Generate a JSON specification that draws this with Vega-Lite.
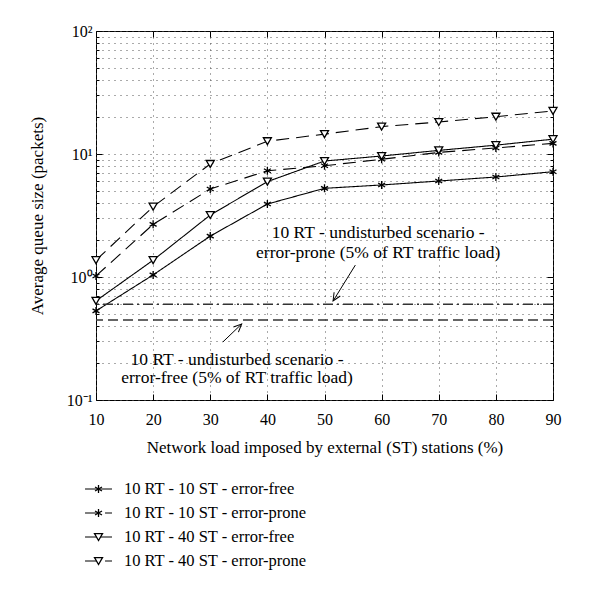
{
  "$schema": "https://vega.github.io/schema/vega-lite/v6.json",
  "padding": {"left": 27, "top": 22, "right": 37, "bottom": 0},
  "spacing": 21,
  "config": {
    "font": "Liberation Serif",
    "view": {"stroke": "black", "strokeWidth": 1},
    "axis": {"labelFont": "Liberation Serif", "titleFont": "Liberation Serif", "labelFontSize": 16, "titleFontSize": 17, "titleFontWeight": "normal", "labelColor": "black", "titleColor": "black", "tickColor": "black", "labelFlush": false},
    "text": {"font": "Liberation Serif"}
  },
  "datasets": {
    "series": [
      {"series": "10 RT - 10 ST - error-free", "x": 10, "y": 0.53},
      {"series": "10 RT - 10 ST - error-free", "x": 20, "y": 1.04},
      {"series": "10 RT - 10 ST - error-free", "x": 30, "y": 2.15},
      {"series": "10 RT - 10 ST - error-free", "x": 40, "y": 3.92},
      {"series": "10 RT - 10 ST - error-free", "x": 50, "y": 5.26},
      {"series": "10 RT - 10 ST - error-free", "x": 60, "y": 5.6},
      {"series": "10 RT - 10 ST - error-free", "x": 70, "y": 6.03},
      {"series": "10 RT - 10 ST - error-free", "x": 80, "y": 6.5},
      {"series": "10 RT - 10 ST - error-free", "x": 90, "y": 7.18},
      {"series": "10 RT - 10 ST - error-prone", "x": 10, "y": 1.02},
      {"series": "10 RT - 10 ST - error-prone", "x": 20, "y": 2.68},
      {"series": "10 RT - 10 ST - error-prone", "x": 30, "y": 5.19},
      {"series": "10 RT - 10 ST - error-prone", "x": 40, "y": 7.3},
      {"series": "10 RT - 10 ST - error-prone", "x": 50, "y": 8.03},
      {"series": "10 RT - 10 ST - error-prone", "x": 60, "y": 9.06},
      {"series": "10 RT - 10 ST - error-prone", "x": 70, "y": 10.3},
      {"series": "10 RT - 10 ST - error-prone", "x": 80, "y": 11.2},
      {"series": "10 RT - 10 ST - error-prone", "x": 90, "y": 12.2},
      {"series": "10 RT - 40 ST - error-free", "x": 10, "y": 0.64},
      {"series": "10 RT - 40 ST - error-free", "x": 20, "y": 1.37},
      {"series": "10 RT - 40 ST - error-free", "x": 30, "y": 3.19},
      {"series": "10 RT - 40 ST - error-free", "x": 40, "y": 5.96},
      {"series": "10 RT - 40 ST - error-free", "x": 50, "y": 8.77},
      {"series": "10 RT - 40 ST - error-free", "x": 60, "y": 9.63},
      {"series": "10 RT - 40 ST - error-free", "x": 70, "y": 10.7},
      {"series": "10 RT - 40 ST - error-free", "x": 80, "y": 11.8},
      {"series": "10 RT - 40 ST - error-free", "x": 90, "y": 13.2},
      {"series": "10 RT - 40 ST - error-prone", "x": 10, "y": 1.37},
      {"series": "10 RT - 40 ST - error-prone", "x": 20, "y": 3.73},
      {"series": "10 RT - 40 ST - error-prone", "x": 30, "y": 8.3},
      {"series": "10 RT - 40 ST - error-prone", "x": 40, "y": 12.7},
      {"series": "10 RT - 40 ST - error-prone", "x": 50, "y": 14.5},
      {"series": "10 RT - 40 ST - error-prone", "x": 60, "y": 16.7},
      {"series": "10 RT - 40 ST - error-prone", "x": 70, "y": 18.2},
      {"series": "10 RT - 40 ST - error-prone", "x": 80, "y": 20.1},
      {"series": "10 RT - 40 ST - error-prone", "x": 90, "y": 22.4}
    ],
    "keys": [
      {"series": "10 RT - 10 ST - error-free"},
      {"series": "10 RT - 10 ST - error-prone"},
      {"series": "10 RT - 40 ST - error-free"},
      {"series": "10 RT - 40 ST - error-prone"}
    ],
    "refs": [
      {"kind": "error-prone", "y": 0.6},
      {"kind": "error-free", "y": 0.447}
    ],
    "notes": [
      {"x": 59.4, "y": 2.279, "text": "10 RT - undisturbed scenario -"},
      {"x": 59.4, "y": 1.567, "text": "error-prone (5% of RT traffic load)"},
      {"x": 34.7, "y": 0.2114, "text": "10 RT - undisturbed scenario -"},
      {"x": 34.7, "y": 0.151, "text": "error-free (5% of RT traffic load)"}
    ],
    "arrows": [
      {"id": "prone", "x": 55.4, "y": 1.25, "x2": 51.5, "y2": 0.638},
      {"id": "free", "x": 32.2, "y": 0.296, "x2": 35.5, "y2": 0.415}
    ]
  },
  "vconcat": [
    {
      "width": 457,
      "height": 369,
      "layer": [
        {
          "data": {"name": "series"},
          "mark": {"type": "line", "color": "black", "strokeWidth": 1.1},
          "encoding": {
            "x": {"field": "x", "type": "quantitative",
              "scale": {"domain": [10, 90], "nice": false, "zero": false},
              "axis": {"values": [10, 20, 30, 40, 50, 60, 70, 80, 90], "title": "Network load imposed by external (ST) stations (%)", "grid": true, "gridDash": [1, 5], "gridColor": "#555", "gridOpacity": 1, "tickSize": -6, "labelPadding": 17, "titlePadding": 12, "domain": false}},
            "y": {"field": "y", "type": "quantitative",
              "scale": {"type": "log", "domain": [0.1, 100], "nice": false},
              "axis": {"values": [0.1, 0.2, 0.3, 0.4, 0.5, 0.6, 0.7, 0.8, 0.9, 1, 2, 3, 4, 5, 6, 7, 8, 9, 10, 20, 30, 40, 50, 60, 70, 80, 90, 100],
                "labelExpr": "datum.value == 100 ? '10²' : datum.value == 10 ? '10¹' : datum.value == 1 ? '10⁰' : datum.value == 0.1 ? '10⁻¹' : ''",
                "labelOverlap": false,
                "title": "Average queue size (packets)", "grid": true, "gridDash": [1, 5], "gridColor": "#555", "gridOpacity": 1,
                "tickSize": {"condition": {"test": "datum.value == 0.1 || datum.value == 1 || datum.value == 10 || datum.value == 100", "value": -6}, "value": -3},
                "labelPadding": 10, "titlePadding": 20, "domain": false}},
            "strokeDash": {"field": "series", "type": "nominal",
              "scale": {"domain": ["10 RT - 10 ST - error-free", "10 RT - 10 ST - error-prone", "10 RT - 40 ST - error-free", "10 RT - 40 ST - error-prone"], "range": [[1, 0], [13, 7], [1, 0], [13, 7]]},
              "legend": null}
          }
        },
        {
          "data": {"name": "series"},
          "mark": {"type": "point", "filled": true, "fill": "white", "stroke": "black", "strokeWidth": 1.3, "opacity": 1},
          "encoding": {
            "x": {"field": "x", "type": "quantitative", "axis": null},
            "y": {"field": "y", "type": "quantitative", "axis": null},
            "shape": {"field": "series", "type": "nominal",
              "scale": {"domain": ["10 RT - 10 ST - error-free", "10 RT - 10 ST - error-prone", "10 RT - 40 ST - error-free", "10 RT - 40 ST - error-prone"],
                "range": ["M0,-1L0,1M-0.87,-0.5L0.87,0.5M-0.87,0.5L0.87,-0.5", "M0,-1L0,1M-0.87,-0.5L0.87,0.5M-0.87,0.5L0.87,-0.5", "triangle-down", "triangle-down"]},
              "legend": null},
            "size": {"field": "series", "type": "nominal",
              "scale": {"domain": ["10 RT - 10 ST - error-free", "10 RT - 10 ST - error-prone", "10 RT - 40 ST - error-free", "10 RT - 40 ST - error-prone"], "range": [64, 64, 150, 150]},
              "legend": null}
          }
        },
        {
          "data": {"name": "refs"},
          "transform": [{"filter": "datum.kind == 'error-prone'"}],
          "mark": {"type": "rule", "color": "#333", "strokeWidth": 1.4, "strokeDash": [10, 4, 2, 4]},
          "encoding": {
            "y": {"field": "y", "type": "quantitative", "axis": null}
          }
        },
        {
          "data": {"name": "refs"},
          "transform": [{"filter": "datum.kind == 'error-free'"}],
          "mark": {"type": "rule", "color": "#333", "strokeWidth": 1.6, "strokeDash": [10, 5]},
          "encoding": {
            "y": {"field": "y", "type": "quantitative", "axis": null}
          }
        },
        {
          "data": {"name": "notes"},
          "mark": {"type": "text", "fontSize": 17.5, "align": "center", "baseline": "middle", "color": "black"},
          "encoding": {
            "x": {"field": "x", "type": "quantitative", "axis": null},
            "y": {"field": "y", "type": "quantitative", "axis": null},
            "text": {"field": "text"}
          }
        },
        {
          "data": {"name": "arrows"},
          "mark": {"type": "rule", "color": "black", "strokeWidth": 1},
          "encoding": {
            "x": {"field": "x", "type": "quantitative",
              "axis": {"orient": "top", "labels": false, "title": null, "grid": false, "domain": false, "values": [10, 20, 30, 40, 50, 60, 70, 80, 90], "tickSize": -6}},
            "y": {"field": "y", "type": "quantitative",
              "axis": {"orient": "right", "labels": false, "title": null, "grid": false, "domain": false,
                "values": [0.1, 0.2, 0.3, 0.4, 0.5, 0.6, 0.7, 0.8, 0.9, 1, 2, 3, 4, 5, 6, 7, 8, 9, 10, 20, 30, 40, 50, 60, 70, 80, 90, 100],
                "tickSize": {"condition": {"test": "datum.value == 0.1 || datum.value == 1 || datum.value == 10 || datum.value == 100", "value": -6}, "value": -3}}},
            "x2": {"field": "x2"},
            "y2": {"field": "y2"}
          }
        },
        {
          "data": {"name": "arrows"},
          "transform": [{"filter": "datum.id == 'prone'"}],
          "mark": {"type": "point", "shape": "M-0.45,1L0,0L0.45,1", "size": 256, "filled": false, "stroke": "black", "strokeWidth": 1, "angle": 211, "opacity": 1},
          "encoding": {
            "x": {"field": "x2", "type": "quantitative", "axis": null},
            "y": {"field": "y2", "type": "quantitative", "axis": null}
          }
        },
        {
          "data": {"name": "arrows"},
          "transform": [{"filter": "datum.id == 'free'"}],
          "mark": {"type": "point", "shape": "M-0.45,1L0,0L0.45,1", "size": 256, "filled": false, "stroke": "black", "strokeWidth": 1, "angle": 46, "opacity": 1},
          "encoding": {
            "x": {"field": "x2", "type": "quantitative", "axis": null},
            "y": {"field": "y2", "type": "quantitative", "axis": null}
          }
        }
      ],
      "resolve": {"axis": {"x": "independent", "y": "independent"}}
    },
    {
      "width": 457,
      "height": 96,
      "view": {"stroke": null},
      "data": {"name": "keys"},
      "encoding": {
        "y": {"field": "series", "type": "nominal",
          "scale": {"type": "point", "padding": 0.5, "domain": ["10 RT - 10 ST - error-free", "10 RT - 10 ST - error-prone", "10 RT - 40 ST - error-free", "10 RT - 40 ST - error-prone"]},
          "axis": null}
      },
      "layer": [
        {
          "mark": {"type": "rule", "color": "black", "strokeWidth": 1.1},
          "encoding": {
            "x": {"datum": -2.4, "type": "quantitative", "scale": {"domain": [0, 100], "nice": false, "zero": false}, "axis": null},
            "x2": {"datum": 3.5},
            "strokeDash": {"field": "series", "type": "nominal",
              "scale": {"domain": ["10 RT - 10 ST - error-free", "10 RT - 10 ST - error-prone", "10 RT - 40 ST - error-free", "10 RT - 40 ST - error-prone"], "range": [[1, 0], [6, 5], [1, 0], [6, 5]]},
              "legend": null}
          }
        },
        {
          "mark": {"type": "point", "filled": true, "fill": "white", "stroke": "black", "strokeWidth": 1.3, "opacity": 1},
          "encoding": {
            "x": {"datum": 0.55, "type": "quantitative"},
            "shape": {"field": "series", "type": "nominal",
              "scale": {"domain": ["10 RT - 10 ST - error-free", "10 RT - 10 ST - error-prone", "10 RT - 40 ST - error-free", "10 RT - 40 ST - error-prone"],
                "range": ["M0,-1L0,1M-0.87,-0.5L0.87,0.5M-0.87,0.5L0.87,-0.5", "M0,-1L0,1M-0.87,-0.5L0.87,0.5M-0.87,0.5L0.87,-0.5", "triangle-down", "triangle-down"]},
              "legend": null},
            "size": {"field": "series", "type": "nominal",
              "scale": {"domain": ["10 RT - 10 ST - error-free", "10 RT - 10 ST - error-prone", "10 RT - 40 ST - error-free", "10 RT - 40 ST - error-prone"], "range": [50, 50, 100, 100]},
              "legend": null}
          }
        },
        {
          "mark": {"type": "text", "fontSize": 16.5, "align": "left", "baseline": "middle", "color": "black"},
          "encoding": {
            "x": {"datum": 6.1, "type": "quantitative"},
            "text": {"field": "series"}
          }
        }
      ]
    }
  ]
}
